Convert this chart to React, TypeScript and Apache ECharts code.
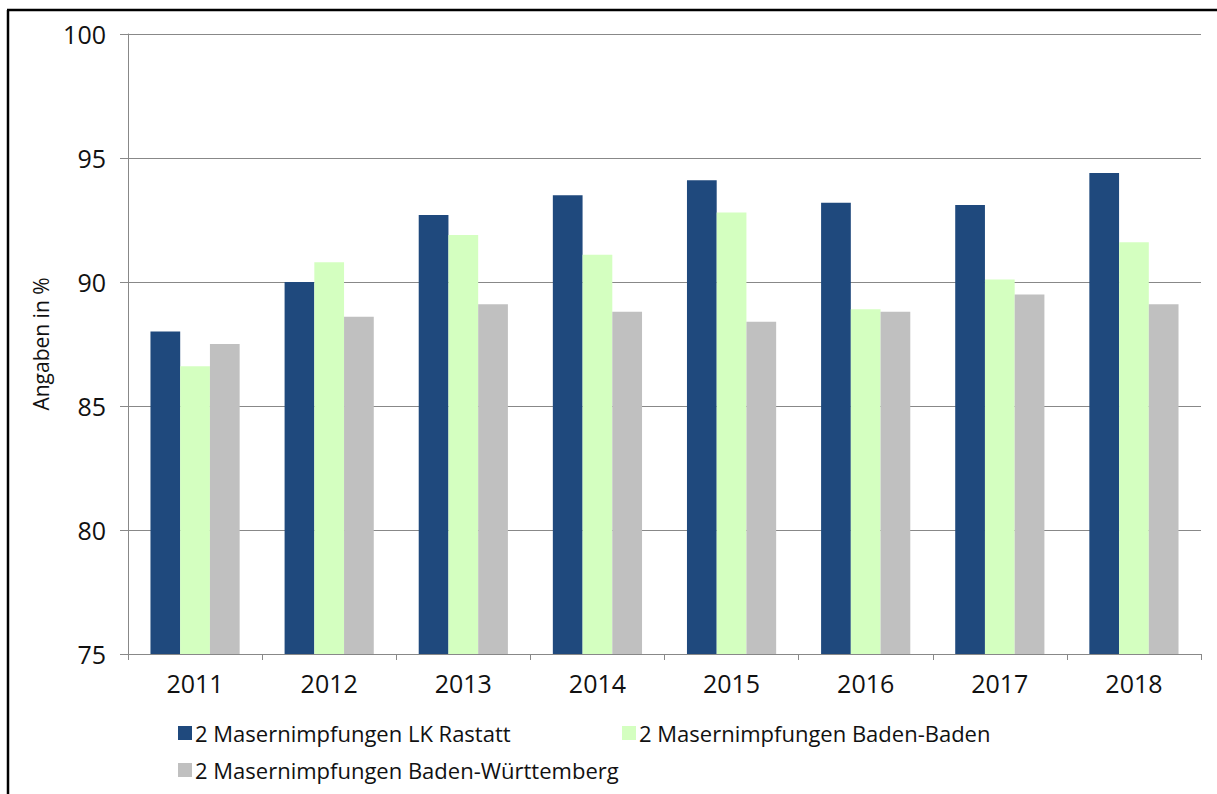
import React, { useEffect, useRef } from "react";
import * as echarts from "echarts";

const years = ["2011", "2012", "2013", "2014", "2015", "2016", "2017", "2018"];
const rastatt = [88.0, 90.0, 92.7, 93.5, 94.1, 93.2, 93.1, 94.4];
const badenBaden = [86.6, 90.8, 91.9, 91.1, 92.8, 88.9, 90.1, 91.6];
const bw = [87.5, 88.6, 89.1, 88.8, 88.4, 88.8, 89.5, 89.1];
const seriesNames = [
  "2 Masernimpfungen LK Rastatt",
  "2 Masernimpfungen Baden-Baden",
  "2 Masernimpfungen Baden-Württemberg",
];
const yMin = 75;
const yMax = 100;
const yStep = 5;

const FONT = "'Open Sans', 'Noto Sans', sans-serif";

export default function App() {
  const ref = useRef<HTMLDivElement>(null);
  useEffect(() => {
    if (!ref.current) return;
    const chart = echarts.init(ref.current, undefined, { renderer: "svg" });
    const legendBase = {
      icon: "rect",
      itemWidth: 14,
      itemHeight: 14,
      itemGap: 0,
      textStyle: { fontFamily: FONT, fontSize: 22, color: "#111111", padding: [0, 0, 0, -2] },
      padding: 0,
      orient: "horizontal" as const,
    };
    chart.setOption({
      animation: false,
      backgroundColor: "#ffffff",
      textStyle: { fontFamily: FONT },
      color: ["#1F497D", "#D4FFC0", "#C0C0C0"],
      grid: { left: 128, right: 16, top: 34, bottom: 140, containLabel: false },
      legend: [
        { ...legendBase, data: [seriesNames[0]], left: 178, top: 722 },
        { ...legendBase, data: [seriesNames[1]], left: 622, top: 722 },
        { ...legendBase, data: [seriesNames[2]], left: 178, top: 759 },
      ],
      graphic: [
        { type: "line", shape: { x1: 8, y1: 10, x2: 8, y2: 800 }, style: { stroke: "#000", lineWidth: 2.5 } },
        { type: "line", shape: { x1: 7, y1: 10, x2: 1220, y2: 10 }, style: { stroke: "#000", lineWidth: 2.5 } },
      ],
      xAxis: {
        type: "category",
        data: years,
        boundaryGap: true,
        axisLine: { show: true, lineStyle: { color: "#888888", width: 1 } },
        axisTick: { show: true, length: 6, lineStyle: { color: "#888888" } },
        axisLabel: { fontFamily: FONT, fontSize: 25, color: "#111111", margin: 16 },
      },
      yAxis: {
        type: "value",
        min: yMin,
        max: yMax,
        interval: yStep,
        name: "Angaben in %",
        nameLocation: "middle",
        nameGap: 77,
        nameRotate: 90,
        nameTextStyle: { fontFamily: FONT, fontSize: 21, color: "#111111" },
        axisLine: { show: true, lineStyle: { color: "#888888", width: 1 } },
        axisTick: { show: true, length: 8, lineStyle: { color: "#888888" } },
        axisLabel: { fontFamily: FONT, fontSize: 25, color: "#111111", margin: 22 },
        splitLine: { show: true, lineStyle: { color: "#888888", width: 1 } },
      },
      series: [
        { name: seriesNames[0], type: "bar", data: rastatt, barGap: "0%", barCategoryGap: "33.5%" },
        { name: seriesNames[1], type: "bar", data: badenBaden, barGap: "0%", barCategoryGap: "33.5%" },
        { name: seriesNames[2], type: "bar", data: bw, barGap: "0%", barCategoryGap: "33.5%" },
      ],
    });
    return () => chart.dispose();
  }, []);
  return (
    <div
      ref={ref}
      style={{ position: "fixed", left: 0, top: 0, width: 1217, height: 794, background: "#fff" }}
    />
  );
}
